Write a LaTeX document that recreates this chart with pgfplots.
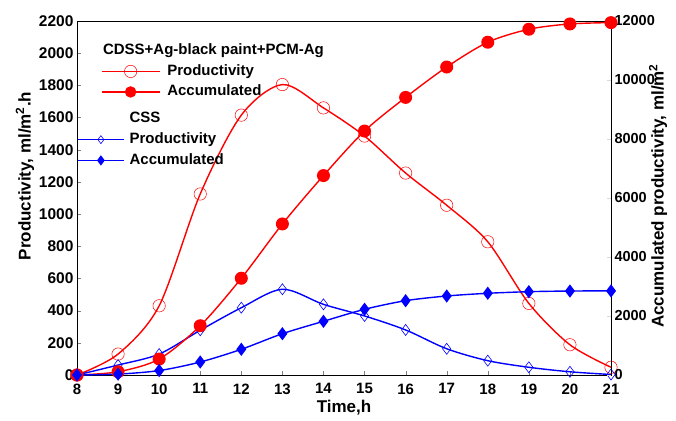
\documentclass[border=0pt]{standalone}
\usepackage{fontspec}
\setmainfont{Liberation Sans}
\usepackage{pgfplots}
\pgfplotsset{compat=1.18}
\usepackage{pgfplotstable}

\pgfplotstableread{
x  rp    ra     bp   ba
8  0     0      0    0
9  130   110    62   30
10 430   540    130  150
11 1125  1670   278  440
12 1615  3280   418  871
13 1805  5120   533  1400
14 1660  6760   439  1820
15 1485  8270   367  2227
16 1255  9410   280  2519
17 1055  10440  163  2678
18 828   11280  89   2770
19 445   11720  48   2824
20 188   11900  20   2847
21 48    11945  3    2850
}\data

\begin{document}
\begin{tikzpicture}
\pgfplotsset{
 common/.style={
  width=534pt, height=354pt, scale only axis,
  xmin=8, xmax=21,
  xticklabel style={font=\fontsize{15}{17}\selectfont\bfseries, yshift=-5pt},
  xticklabel={\bfseries\pgfmathprintnumber{\tick}},
  yticklabel={\bfseries\pgfmathprintnumber{\tick}},
  label style={font=\fontsize{17}{19}\selectfont\bfseries},
  /pgf/number format/assume math mode=true,
  /pgf/number format/set thousands separator={},
  scaled y ticks=false,
  tick align=inside, major tick length=4pt,
  every axis plot/.append style={line width=1.4pt},
 },
}
\begin{axis}[common, name=main,
  ymin=0, ymax=2200, ytick distance=200,
  xtick={8,...,21}, xtick pos=bottom, ytick pos=left,
  yticklabel style={font=\fontsize{15.5}{17}\selectfont\bfseries},
  xlabel={Time,h},
  ylabel={Productivity, ml/m\textsuperscript{2}.h},
  xlabel style={at={(axis description cs:0.5,-0.093)}, anchor=center},
  ylabel style={at={(axis description cs:-0.0974,0.562)}, anchor=center},
  legend image code/.code={\draw[mark repeat=2,mark phase=2,#1] plot coordinates {(0pt,0pt) (29pt,0pt) (58pt,0pt)};},
  legend style={draw=none, fill=none, inner sep=0pt,
    at={(axis description cs:0.0444,0.936)}, anchor=north west,
    font=\fontsize{15}{17}\selectfont\bfseries,
    nodes={inner xsep=0pt, inner ysep=0pt, text height=11pt, text depth=3.2pt},
    column sep=7pt, row sep=6.3pt},
  legend cell align=left,
]
\addlegendimage{empty legend}
\addlegendentry{\hspace{-64.3pt}CDSS+Ag-black paint+PCM-Ag}
\addplot[red, smooth, mark=o, mark size=6.2pt, mark options={line width=0.5pt, fill=none}] table[x=x,y=rp]{\data};
\addlegendentry{Productivity}
\addlegendimage{red, line width=1.4pt, mark=*, mark size=5pt}
\addlegendentry{Accumulated}
\addplot[blue, smooth, mark=diamond, mark size=5.5pt, mark options={line width=0.6pt, fill=none}, forget plot] table[x=x,y=bp]{\data};
\end{axis}
\begin{axis}[common,
  ymin=0, ymax=12000, ytick distance=2000,
  axis y line*=right, axis x line=none,
  y tick style={gray!30},
  yticklabel style={font=\fontsize{14.5}{16}\selectfont\bfseries},
  ylabel={Accumulated productivity, ml/m\textsuperscript{2}},
  ylabel style={at={(axis description cs:1.088,0.506)}, anchor=center},
  legend image code/.code={\draw[mark repeat=2,mark phase=2,#1] plot coordinates {(0pt,0pt) (23pt,0pt) (46pt,0pt)};},
  legend style={draw=none, fill=none, inner sep=0pt,
    at={(axis description cs:0,0.7438)}, anchor=north west,
    font=\fontsize{15}{17}\selectfont\bfseries,
    nodes={inner xsep=0pt, inner ysep=0pt, text height=11pt, text depth=3.2pt},
    column sep=5pt, row sep=6.5pt},
  legend cell align=left,
]
\addplot[red, smooth, mark=*, mark size=5.8pt, forget plot] table[x=x,y=ra]{\data};
\addplot[blue, smooth, mark=diamond*, mark size=5.5pt, forget plot] table[x=x,y=ba]{\data};
\addlegendimage{empty legend}
\addlegendentry{CSS}
\addlegendimage{blue, line width=1.4pt, mark=diamond, mark size=4pt, mark options={line width=0.6pt, fill=none}}
\addlegendentry{Productivity}
\addlegendimage{blue, line width=1.4pt, mark=diamond*, mark size=4pt}
\addlegendentry{Accumulated}
\end{axis}
\path[use as bounding box] ([xshift=-77pt,yshift=-45pt]main.south west) rectangle ([xshift=65pt,yshift=21pt]main.north east);
\end{tikzpicture}
\end{document}
